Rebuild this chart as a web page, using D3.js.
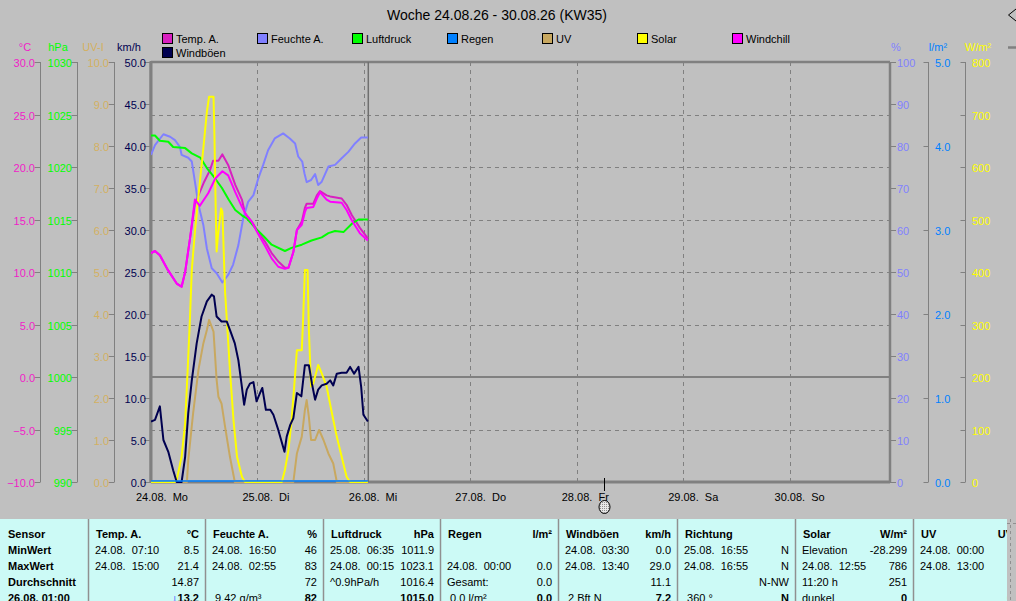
<!DOCTYPE html>
<html><head><meta charset="utf-8">
<script src="https://cdn.jsdelivr.net/npm/d3@7"></script>
<style>
body{margin:0;background:#c0c0c0;overflow:hidden}
svg{display:block}
text{font-family:"Liberation Sans",Arial,sans-serif;font-size:11px;white-space:pre}
</style></head><body>
<svg id="c" width="1016" height="601"></svg>
<script>
// ---------- data ----------
const title = "Woche 24.08.26 - 30.08.26 (KW35)";
const dayLabels = ["24.08.  Mo","25.08.  Di","26.08.  Mi","27.08.  Do","28.08.  Fr","29.08.  Sa","30.08.  So"];
const legendNames = ["Temp. A.","Feuchte A.","Luftdruck","Regen","UV","Solar","Windchill","Windböen"];
const legendColors = ["#d820c0","#8080ff","#00ff00","#0080ff","#c8a860","#ffff00","#ff00ff","#000050"];

const tempTicks = [-10,-5,0,5,10,15,20,25,30];
const pressTicks = [990,995,1000,1005,1010,1015,1020,1025,1030];
const uvTicks = [0,1,2,3,4,5,6,7,8,9,10];
const windTicks = [0,5,10,15,20,25,30,35,40,45,50];
const humTicks = [0,10,20,30,40,50,60,70,80,90,100];
const rainTicks = [0,1,2,3,4,5];
const solarTicks = [0,100,200,300,400,500,600,700,800];

// [hour since 24.08. 00:00, value]
const tempA = [[0,11.8],[0.9,12.0],[2,11.6],[3.8,10.2],[5.8,8.9],[6.9,8.6],[7.7,10.0],[8.8,13.2],[9.9,16.5],[11,17.6],[12,18.6],[13.3,19.7],[14,20.6],[15.2,20.6],[16.1,21.2],[17.4,20.2],[19,18.3],[20.5,16.9],[21.2,15.6],[22.7,14.8],[24.2,13.8],[25.7,12.9],[27.2,11.8],[28.7,11.0],[30.2,10.4],[31,10.4],[32.1,11.9],[32.9,14.0],[34,14.8],[34.7,16.1],[35.1,16.5],[36.6,16.5],[37.4,17.3],[38.1,17.7],[39.6,17.3],[40.4,17.2],[43,17.0],[44.1,16.4],[45.3,15.4],[47.1,14.2],[48.9,13.2]];
const windchill = [[0,11.8],[0.9,12.0],[2,11.6],[3.8,10.2],[5.8,8.9],[6.9,8.6],[7.7,10.0],[8.8,13.2],[9.9,16.9],[11,16.3],[12.9,17.5],[14.5,18.9],[16.1,19.6],[17.4,19.2],[19,17.6],[20.5,16.2],[21.5,15.4],[22.7,14.8],[24.2,13.6],[25.7,12.5],[27.2,11.3],[28.7,10.5],[30.2,10.3],[31,10.4],[32.1,11.9],[32.9,14.0],[34,14.5],[34.7,15.7],[35.1,16.1],[36.6,16.2],[37.4,17.0],[38.1,17.6],[39.6,16.9],[40.4,16.7],[43,16.6],[44.1,15.9],[45.3,14.9],[47.1,13.7],[48.9,13.0]];
const humidity = [[0,77.9],[0.9,80.2],[2.8,82.8],[4.3,82.2],[5.4,81.4],[6.5,79.8],[6.9,77.9],[8.4,77.2],[9.2,76.3],[9.9,71.5],[10.7,66],[11.8,61.2],[12.6,55.6],[13.7,50.9],[14.8,49.7],[16.1,47.5],[17.4,49.3],[18.5,51.7],[19.7,56.4],[20.8,62.8],[21.9,66.7],[23.1,68.3],[24.2,72.3],[25.3,75.5],[26.4,79],[27.9,81.8],[29.8,83],[31.3,81.8],[32.5,80.6],[33.2,77.5],[34.1,76.3],[34.6,73.5],[35.1,71.4],[36.1,71.9],[37,73.3],[37.7,70.7],[38.5,71.5],[40,75.1],[41.5,75.5],[43,77.1],[44.5,78.6],[46,80.6],[47.4,82],[48.9,82]];
const pressure = [[0,1023.0],[0.9,1023.0],[2,1022.5],[3.9,1022.4],[5,1021.9],[7.7,1021.8],[9.2,1021.3],[11.1,1020.9],[12.6,1019.9],[14.1,1019.1],[16,1018.0],[17.5,1016.9],[19,1015.9],[20.5,1015.4],[21.6,1015.1],[23.5,1014.2],[25.4,1013.4],[27.2,1012.6],[30.2,1012.0],[31.7,1012.3],[34,1012.6],[36.2,1013.0],[38.5,1013.3],[40,1013.7],[41.5,1013.9],[43.4,1013.8],[45.3,1014.6],[46.8,1015.0],[48.9,1015.0]];
const rain = [[0,0],[48.9,0]];
const uv = [[0,0],[8.1,0],[8.4,0.52],[9.5,1.64],[10.7,2.67],[11.8,3.3],[12.6,3.62],[13.1,3.86],[14.1,3.58],[14.8,2.43],[15.2,2.03],[15.9,1.87],[16.7,1.32],[17.8,0.6],[18.9,0],[32.1,0],[32.9,0.68],[34,1.08],[34.7,1.71],[35.1,1.95],[35.6,1.55],[36.1,1.0],[37,1.0],[37.9,1.24],[38.9,1.0],[40,0.68],[41.1,0.44],[41.9,0],[48.9,0]];
const solar = [[0,0],[5.3,0],[5.8,4],[6.9,48],[7.7,112],[8.3,220],[8.8,315],[9.2,404],[9.9,477],[11.1,578],[11.8,635],[12.6,705],[13.1,734],[14.1,734],[14.3,661],[14.6,515],[14.8,439],[15.1,470],[15.4,490],[15.8,521],[16.1,515],[16.4,439],[16.7,362],[17.1,309],[17.8,213],[18.6,118],[19.4,48],[20.5,10],[21.2,0],[29.5,0],[30.2,23],[31,61],[31.7,118],[32.3,182],[32.9,251],[34,251],[34.3,309],[34.7,404],[35.3,404],[35.6,290],[36.1,182],[36.6,188],[37.7,223],[38.5,207],[39.6,182],[40.8,131],[41.9,86],[43,48],[44.1,10],[44.9,0],[48.9,0]];
const gusts = [[0,7.2],[0.9,7.4],[2,9.0],[2.8,5.0],[3.9,3.6],[5,1.4],[5.8,0],[6.9,0],[7.7,3.0],[8.4,8.2],[9.2,12.1],[10.3,16.5],[11.4,19.7],[12.6,21.5],[13.7,22.3],[14.2,22.1],[14.8,19.7],[15.9,19.1],[17.1,19.1],[17.8,18.1],[18.9,16.5],[19.7,14.5],[20.4,11.7],[21,9.2],[21.6,11.0],[22.3,11.7],[23.1,11.9],[23.8,9.6],[24.6,10.6],[25.1,11.2],[25.9,8.6],[26.9,8.6],[27.6,8.0],[28.7,6.2],[30.1,3.6],[30.6,5.4],[31.4,6.8],[32.1,7.6],[32.9,10.6],[33.9,10.2],[34.7,13.9],[35.6,13.9],[36.3,11.7],[37,9.8],[37.7,11.0],[38.5,11.5],[39.6,11.7],[40.4,12.1],[41.1,11.5],[41.9,12.9],[43,13.0],[44.1,13.0],[44.9,13.7],[45.8,12.9],[46.8,13.7],[47.4,11.3],[47.9,8.0],[48.9,7.2]];
const nowHour = 49;
const markerHour = 102.2;

// table
const colStarts = [0,88,205,323,440,558,677,795,913,1019];
const tableHeaders = ["Sensor","Temp. A.","Feuchte A.","Luftdruck","Regen","Windböen","Richtung","Solar","UV"];
const tableUnits = ["","°C","%","hPa","l/m²","km/h","","W/m²","UV"];
const rowLabels = ["MinWert","MaxWert","Durchschnitt","26.08. 01:00"];
const tableLeft = [
  [],
  ["24.08.  07:10","24.08.  15:00","",""],
  ["24.08.  16:50","24.08.  02:55",""," 9.42 g/m³"],
  ["25.08.  06:35","24.08.  00:15","^0.9hPa/h",""],
  ["","24.08.  00:00","Gesamt:"," 0.0 l/m²"],
  ["24.08.  03:30","24.08.  13:40",""," 2 Bft N"],
  ["25.08.  16:55","24.08.  16:55",""," 360 °"],
  ["Elevation","24.08.  12:55","11:20 h","dunkel"],
  ["24.08.  00:00","24.08.  13:00","",""]
];
const tableRight = [
  [],
  ["8.5","21.4","14.87","13.2"],
  ["46","83","72","82"],
  ["1011.9","1023.1","1016.4","1015.0"],
  ["","0.0","0.0","0.0"],
  ["0.0","29.0","11.1","7.2"],
  ["N","N","N-NW","N"],
  ["-28.299","786","251","0"],
  ["","","","0"]
];

// ---------- drawing ----------
const svg = d3.select("#c");
const L = 151, R = 890, T = 62, B = 482;
const x = d3.scaleLinear().domain([0,168]).range([L, L + 7*106.43]);
const yT = d3.scaleLinear().domain([-10,30]).range([B,T]);
const yP = d3.scaleLinear().domain([990,1030]).range([B,T]);
const yU = d3.scaleLinear().domain([0,10]).range([B,T]);
const yW = d3.scaleLinear().domain([0,50]).range([B,T]);
const yH = d3.scaleLinear().domain([0,100]).range([B,T]);
const yR = d3.scaleLinear().domain([0,5]).range([B,T]);
const yS = d3.scaleLinear().domain([0,800]).range([B,T]);

svg.append("rect").attr("width",1016).attr("height",601).attr("fill","#c0c0c0");

// title
svg.append("text").attr("x",497).attr("y",20).attr("text-anchor","middle")
  .style("font-size","14px").attr("fill","#000").text(title);

// legend
legendNames.forEach((n,i)=>{
  const col = i<7 ? i : 0, row = i<7 ? 0 : 1;
  const bx = 162 + col*95, by = 33 + row*14;
  svg.append("rect").attr("x",bx+0.5).attr("y",by+0.5).attr("width",10).attr("height",10)
    .attr("fill",legendColors[i]).attr("stroke","#000");
  svg.append("text").attr("x",bx+14).attr("y",by+10).attr("fill","#000").text(n);
});

// left axes
function leftAxis(ax, labelX, scale, ticks, fmt, color, unit, unitX){
  const g = svg.append("g");
  g.append("line").attr("x1",ax).attr("x2",ax).attr("y1",T).attr("y2",B).attr("stroke","#808080");
  ticks.forEach(t=>{
    const yy = Math.round(scale(t))+0.5;
    g.append("line").attr("x1",ax-6).attr("x2",ax).attr("y1",yy).attr("y2",yy).attr("stroke","#808080");
    g.append("text").attr("x",labelX).attr("y",yy+4).attr("text-anchor","end").attr("fill",color).text(fmt(t));
  });
  g.append("text").attr("x",unitX).attr("y",51).attr("text-anchor","middle").attr("fill",color).text(unit);
}
leftAxis(40.5, 35, yT, tempTicks, d3.format(".1f"), "#f020c8", "°C", 25);
leftAxis(77.5, 72, yP, pressTicks, d3.format("d"), "#00ff00", "hPa", 58);
leftAxis(114.5, 109, yU, uvTicks, d3.format(".1f"), "#d4b060", "UV-I", 93);
leftAxis(150, 146, yW, windTicks, d3.format(".1f"), "#000050", "km/h", 129);

// right axes
const gr = svg.append("g");
humTicks.forEach(t=>{
  const yy = Math.round(yH(t))+0.5;
  gr.append("line").attr("x1",R).attr("x2",R+6).attr("y1",yy).attr("y2",yy).attr("stroke","#808080");
  gr.append("text").attr("x",897).attr("y",yy+4).attr("fill","#8080ff").text(d3.format("d")(t));
});
gr.append("text").attr("x",896).attr("y",51).attr("text-anchor","middle").attr("fill","#8080ff").text("%");
function rightAxis(ax, labelX, scale, ticks, fmt, color, unit, unitX){
  gr.append("line").attr("x1",ax).attr("x2",ax).attr("y1",T).attr("y2",B).attr("stroke","#808080");
  ticks.forEach(t=>{
    const yy = Math.round(scale(t))+0.5;
    gr.append("line").attr("x1",ax-5).attr("x2",ax).attr("y1",yy).attr("y2",yy).attr("stroke","#808080");
    gr.append("text").attr("x",labelX).attr("y",yy+4).attr("fill",color).text(fmt(t));
  });
  gr.append("text").attr("x",unitX).attr("y",51).attr("text-anchor","middle").attr("fill",color).text(unit);
}
rightAxis(928.5, 935, yR, rainTicks, d3.format(".1f"), "#0080ff", "l/m²", 938);
rightAxis(965.5, 972, yS, solarTicks, d3.format("d"), "#ffff00", "W/m²", 978);

// grid
const grid = svg.append("g");
[1,2,3,4,5,6].forEach(d=>{
  const xx = Math.round(x(d*24))+0.5;
  grid.append("line").attr("x1",xx).attr("x2",xx).attr("y1",T).attr("y2",B)
    .attr("stroke","#808080").attr("stroke-dasharray","4,4");
});
tempTicks.filter(t=>t>-10 && t<30 && t!==0).forEach(t=>{
  const yy = Math.round(yT(t))+0.5;
  grid.append("line").attr("x1",L).attr("x2",R).attr("y1",yy).attr("y2",yy)
    .attr("stroke","#808080").attr("stroke-dasharray","4,4");
});
grid.append("line").attr("x1",L).attr("x2",R).attr("y1",yT(0)).attr("y2",yT(0))
  .attr("stroke","#808080").attr("stroke-width",2);

// plot border
svg.append("line").attr("x1",L).attr("x2",R).attr("y1",T).attr("y2",T).attr("stroke","#808080").attr("stroke-width",2.5);
svg.append("line").attr("x1",R).attr("x2",R).attr("y1",T).attr("y2",B).attr("stroke","#808080").attr("stroke-width",2.5);
svg.append("line").attr("x1",L).attr("x2",L).attr("y1",T-1).attr("y2",B+1).attr("stroke","#808080").attr("stroke-width",3);
svg.append("line").attr("x1",L).attr("x2",R).attr("y1",B).attr("y2",B).attr("stroke","#808080").attr("stroke-width",3);

// now line
svg.append("line").attr("x1",x(nowHour)).attr("x2",x(nowHour)).attr("y1",T).attr("y2",B)
  .attr("stroke","#707070").attr("stroke-width",1.5);

// day labels
dayLabels.forEach((lab,i)=>{
  svg.append("text").attr("x",x(i*24)-15).attr("y",501).attr("fill","#000").text(lab);
});

// series
svg.append("clipPath").attr("id","pc").append("rect").attr("x",L).attr("y",T).attr("width",R-L).attr("height",B-T+1);
const plot = svg.append("g").attr("clip-path","url(#pc)");
function series(data, ys, color){
  plot.append("path").datum(data).attr("fill","none").attr("stroke",color).attr("stroke-width",2)
    .attr("stroke-linejoin","round")
    .attr("d", d3.line().x(d=>x(d[0])).y(d=>ys(d[1])));
}
series(tempA, yT, legendColors[0]);
series(humidity, yH, legendColors[1]);
series(pressure, yP, legendColors[2]);
series(uv, yU, legendColors[4]);
series(solar, yS, legendColors[5]);
series(windchill, yT, legendColors[6]);
series(gusts, yW, legendColors[7]);
plot.append("path").datum(rain).attr("fill","none").attr("stroke",legendColors[3]).attr("stroke-width",1.5)
  .attr("d", d3.line().x(d=>x(d[0])).y(d=>yR(d[1])-1));

// scroll marker
const mx = Math.round(x(markerHour))+0.5;
svg.append("line").attr("x1",mx).attr("x2",mx).attr("y1",478).attr("y2",491).attr("stroke","#000");
const pat = svg.append("pattern").attr("id","dots").attr("width",2).attr("height",2).attr("patternUnits","userSpaceOnUse");
pat.append("rect").attr("width",2).attr("height",2).attr("fill","#e8e8e8");
pat.append("rect").attr("width",1).attr("height",1).attr("fill","#909090");
svg.append("ellipse").attr("cx",mx).attr("cy",507).attr("rx",5.5).attr("ry",6.5)
  .attr("fill","url(#dots)").attr("stroke","#000");

// top-right bits
svg.append("polyline").attr("points","1016,9 1008.5,15 1016,21").attr("fill","none").attr("stroke","#000");
svg.append("line").attr("x1",1008).attr("x2",1016).attr("y1",47.5).attr("y2",47.5).attr("stroke","#808080").attr("stroke-width",2.5);

// table
const tb = svg.append("g");
tb.append("rect").attr("x",0).attr("y",519).attr("width",1007).attr("height",82).attr("fill","#ccfaf6");
tb.append("line").attr("x1",1010.5).attr("x2",1010.5).attr("y1",519).attr("y2",601).attr("stroke","#909090").attr("stroke-dasharray","3,3");
tb.append("line").attr("x1",1007).attr("x2",1016).attr("y1",523.5).attr("y2",523.5).attr("stroke","#909090").attr("stroke-dasharray","3,3");
colStarts.slice(1,9).forEach(cx=>{
  tb.append("line").attr("x1",cx+0.5).attr("x2",cx+0.5).attr("y1",519).attr("y2",601).attr("stroke","#909090").attr("stroke-width",1.5);
});
tb.append("clipPath").attr("id","tc").append("rect").attr("x",0).attr("y",519).attr("width",1007).attr("height",82);
const tt = tb.append("g").attr("clip-path","url(#tc)");
const rowY = [538,553.5,569.5,585.5,601.5];
tableHeaders.forEach((h,i)=>{
  const c0 = colStarts[i], c1 = colStarts[i+1];
  tt.append("text").attr("x",c0+8).attr("y",rowY[0]).style("font-weight","bold").attr("fill","#000").text(h);
  tt.append("text").attr("x",c1-6).attr("y",rowY[0]).attr("text-anchor","end").style("font-weight","bold").attr("fill","#000").text(tableUnits[i]);
  if(i===0){
    rowLabels.forEach((r,j)=>tt.append("text").attr("x",8).attr("y",rowY[j+1]).style("font-weight","bold").attr("fill","#000").text(r));
  } else {
    tableLeft[i].forEach((v,j)=>tt.append("text").attr("x",c0+7).attr("y",rowY[j+1]).attr("fill","#000").text(v));
    tableRight[i].forEach((v,j)=>{
      const t = tt.append("text").attr("x",c1-6).attr("y",rowY[j+1]).attr("text-anchor","end")
        .style("font-weight", j===3 ? "bold" : "normal").attr("fill","#000");
      if(i===1 && j===3){
        t.append("tspan").attr("fill","#0000ff").text("↓");
        t.append("tspan").text(v);
      } else t.text(v);
    });
  }
});
</script>
</body></html>
